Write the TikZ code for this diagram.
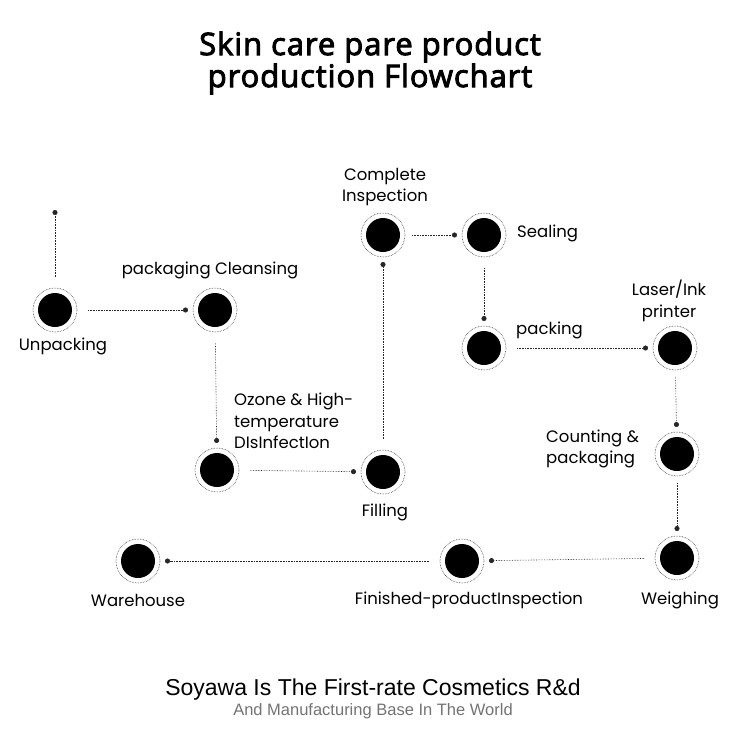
\documentclass[tikz,border=0pt]{standalone}
\usepackage{fontspec}
\usetikzlibrary{arrows.meta}
\setmainfont{Poppins}
\newfontfamily\titlefont[FakeBold=3,LetterSpace=3]{Open Sans}
\newfontfamily\footfont{Liberation Sans}
\begin{document}
\begin{tikzpicture}[x=1pt,y=-1pt,
    stage/.style={circle,fill=black,minimum size=34pt,inner sep=0pt,outer sep=0pt},
    ring/.style={draw=black!80,densely dotted,line width=0.6pt},
    link/.style={draw=black!85,densely dotted,line width=0.6pt,-{Circle[length=5pt]},shorten <=16pt,shorten >=10pt},
    lbl/.style={font=\fontsize{16.5}{21.5}\selectfont,align=center,inner sep=0pt},
    lbll/.style={lbl,align=left,anchor=west}]
    \useasboundingbox (0,0) rectangle (750,750);
    % title
    \node[font=\titlefont\fontsize{31}{32}\selectfont,align=center] (title) at (370,63)
        {Skin care pare product\\ production Flowchart};
    % stages
    \node[stage] (u) at (55,310) {};
    \node[stage] (c) at (215,310) {};
    \node[stage] (o) at (217,470) {};
    \node[stage] (f) at (383,472) {};
    \node[stage] (ci) at (383,235) {};
    \node[stage] (s) at (484,235) {};
    \node[stage] (p) at (484,348) {};
    \node[stage] (l) at (675,348) {};
    \node[stage] (ct) at (677,454) {};
    \node[stage] (w) at (677,558) {};
    \node[stage] (fi) at (462,561) {};
    \node[stage] (wh) at (138,561) {};
    \foreach \n in {u,c,o,f,ci,s,p,l,ct,w,fi,wh}
        \draw[ring] (\n) circle (22);
    \coordinate (top) at (55,210);
    % labels
    \node[lbl] at (63,346) {Unpacking};
    \node[lbl] at (210,270) {packaging Cleansing};
    \node[lbll] at (234,421) {Ozone \& High-\\temperature\\DIsInfectIon};
    \node[lbl] at (385,512) {Filling};
    \node[lbl] at (385,187) {Complete\\Inspection};
    \node[lbll] at (517,233) {Sealing};
    \node[lbll] at (516,330) {packing};
    \node[lbl] at (669,301) {Laser/Ink\\printer};
    \node[lbll] at (546,449) {Counting \&\\packaging};
    \node[lbl] at (680,600) {Weighing};
    \node[lbl] at (469,600) {Finished-productInspection};
    \node[lbl] at (138,600) {Warehouse};
    % connectors
    \draw[link,shorten >=0pt] (u) -- (top);
    \draw[link] (u) -- (c);
    \draw[link] (c) -- (o);
    \draw[link] (o) -- (f);
    \draw[link] (f) -- (ci);
    \draw[link,shorten <=12pt] (ci) -- (s);
    \draw[link] (s) -- (p);
    \draw[link] (p) -- (l);
    \draw[link,shorten <=12pt] (l) -- (ct);
    \draw[link,shorten <=12pt] (ct) -- (w);
    \draw[link] (w) -- (fi);
    \draw[link] (fi) -- (wh);
    % footer
    \node[font=\footfont\fontsize{23}{26}\selectfont] (foot) at (373,690)
        {Soyawa Is The First-rate Cosmetics R\&d};
    \node[font=\footfont\fontsize{16.5}{19}\selectfont,text=black!55] (sub) at (373,711)
        {And Manufacturing Base In The World};
\end{tikzpicture}
\end{document}
